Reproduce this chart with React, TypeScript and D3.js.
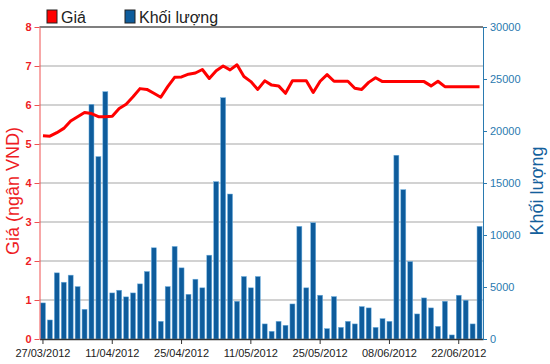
import React, { useEffect, useRef } from "react";
import * as d3 from "d3";

const volumes = [3470,1830,6360,5460,6140,5040,2860,22560,17540,23780,
  4430,4690,4050,4430,5300,6490,8770,1700,5040,8900,
  6840,4300,5750,4920,8060,15130,23200,13940,3630,6010,
  4920,6010,1450,740,1700,1320,3370,10830,4920,11180,
  4210,1000,4080,1120,1700,1450,3120,2990,1120,1960,
  1700,17670,14360,7450,2410,3950,2990,1220,3630,390,
  4210,3730,1450,10830];
const prices = [5.21,5.20,5.29,5.40,5.59,5.70,5.81,5.78,5.70,5.70,
  5.71,5.91,6.02,6.21,6.42,6.40,6.30,6.20,6.47,6.71,
  6.72,6.79,6.82,6.91,6.68,6.88,7.00,6.90,7.03,6.73,
  6.60,6.40,6.62,6.51,6.49,6.30,6.62,6.62,6.62,6.32,
  6.61,6.78,6.61,6.61,6.61,6.43,6.40,6.58,6.70,6.60,
  6.60,6.60,6.60,6.60,6.60,6.60,6.49,6.61,6.47,6.47,
  6.47,6.47,6.47,6.47];
const tickIndices = [0,10,20,30,40,50,60];
const tickLabels = ["27/03/2012","11/04/2012","25/04/2012","11/05/2012","25/05/2012","08/06/2012","22/06/2012"];
const priceTicks = [0,1,2,3,4,5,6,7,8];
const volumeTicks = [0,5000,10000,15000,20000,25000,30000];
const seriesNames = ["Giá","Khối lượng"];

const W = 550, H = 364;
const L = 39.5, R = 483, T = 27, B = 339;
const RED = "#ee1c24";
const BLUE = "#0e5c9c";
const AXBLUE = "#2a7ab0";
const FONT = "'Liberation Sans', Arial, sans-serif";

export default function App() {
  const ref = useRef<SVGSVGElement>(null);
  useEffect(() => {
    const svg = d3.select(ref.current);
    svg.selectAll("*").remove();
    const idx = volumes.map((_, i) => i);
    const x = d3.scaleBand<number>().domain(idx).range([L, R]).paddingInner(0.28).paddingOuter(0.14);
    const xc = (i: number) => (x(i) as number) + x.bandwidth() / 2;
    const yP = d3.scaleLinear().domain([0, 8]).range([B, T]);
    const yV = d3.scaleLinear().domain([0, 30000]).range([B, T]);

    svg.append("rect").attr("width", W).attr("height", H).attr("fill", "#fff");

    // gridlines
    svg.append("g").selectAll("line").data(priceTicks.filter(v => v > 0 && v < 8)).join("line")
      .attr("x1", L).attr("x2", R).attr("y1", d => yP(d)).attr("y2", d => yP(d))
      .attr("stroke", "#d2d2d2").attr("stroke-width", 2);
    svg.append("line").attr("x1", L).attr("x2", R).attr("y1", yP(8)).attr("y2", yP(8))
      .attr("stroke", "#555").attr("stroke-width", 1.5);

    // bars
    svg.append("g").selectAll("rect").data(volumes).join("rect")
      .attr("x", (_, i) => x(i) as number).attr("width", x.bandwidth())
      .attr("y", d => yV(d)).attr("height", d => B - yV(d))
      .attr("fill", BLUE).attr("stroke", "#6fb0e0").attr("stroke-width", 0.5);

    // price line
    const line = d3.line<number>().x((_, i) => xc(i)).y(d => yP(d));
    svg.append("path").datum(prices).attr("d", line).attr("fill", "none")
      .attr("stroke", "#ff0000").attr("stroke-width", 3).attr("stroke-linejoin", "round");

    // x axis
    const xa = svg.append("g").attr("transform", `translate(0,${B})`)
      .call(d3.axisBottom(x).tickValues(tickIndices).tickSize(5).tickSizeOuter(0)
        .tickFormat((d) => tickLabels[tickIndices.indexOf(d as number)]));
    xa.select(".domain").attr("stroke", "#333").attr("stroke-width", 1.5);
    xa.selectAll(".tick line").attr("stroke", "#333");
    xa.selectAll("text").attr("fill", "#222").attr("font-size", 11).attr("font-family", FONT).attr("dy", "0.9em");

    // left axis
    const la = svg.append("g").attr("transform", `translate(${L},0)`)
      .call(d3.axisLeft(yP).tickValues(priceTicks).tickSize(5).tickSizeOuter(0));
    la.select(".domain").attr("stroke", "#f05050");
    la.selectAll(".tick line").attr("stroke", "#f05050");
    la.selectAll("text").attr("fill", RED).attr("font-size", 11).attr("font-family", FONT).attr("font-weight", "bold");

    // right axis
    const ra = svg.append("g").attr("transform", `translate(${R},0)`)
      .call(d3.axisRight(yV).tickValues(volumeTicks).tickSize(4).tickSizeOuter(0).tickFormat(d3.format("d")));
    ra.select(".domain").attr("stroke", AXBLUE);
    ra.selectAll(".tick line").attr("stroke", AXBLUE);
    ra.selectAll("text").attr("fill", AXBLUE).attr("font-size", 11).attr("font-family", FONT);

    // axis titles
    svg.append("text").attr("transform", `translate(19,${(T + B) / 2 + 8}) rotate(-90)`)
      .attr("text-anchor", "middle").attr("fill", RED).attr("font-size", 18).attr("font-family", FONT)
      .text("Giá (ngân VND)");
    svg.append("text").attr("transform", `translate(543,${(T + B) / 2 + 8}) rotate(-90)`)
      .attr("text-anchor", "middle").attr("fill", "#13609c").attr("font-size", 18).attr("font-family", FONT)
      .text("Khối lượng");

    // legend
    const lg = svg.append("g");
    const items = [{ name: seriesNames[0], color: "#ff0000", x: 47 }, { name: seriesNames[1], color: BLUE, x: 125 }];
    items.forEach(it => {
      lg.append("rect").attr("x", it.x).attr("y", 10).attr("width", 10).attr("height", 13)
        .attr("fill", it.color).attr("stroke", "#222").attr("stroke-width", 1);
      lg.append("text").attr("x", it.x + 14).attr("y", 23).attr("font-size", 16).attr("font-family", FONT)
        .attr("fill", "#222").text(it.name);
    });
  }, []);
  return <svg ref={ref} width={W} height={H} style={{ position: "absolute", left: 0, top: 0 }} />;
}
